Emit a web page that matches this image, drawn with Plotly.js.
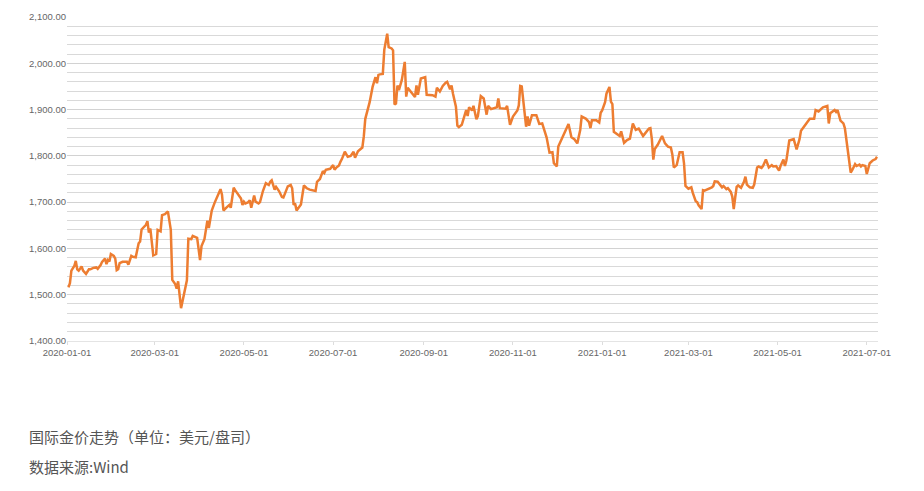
<!DOCTYPE html>
<html>
<head>
<meta charset="utf-8">
<script src="https://cdn.plot.ly/plotly-3.0.1.min.js"></script>
<style>
html,body{margin:0;padding:0;background:#fff;}
#chart{width:924px;height:491px;}
</style>
</head>
<body>
<div id="chart"></div>
<script>
const dates = [
"2020-01-02","2020-01-03","2020-01-04","2020-01-06","2020-01-07","2020-01-08","2020-01-09","2020-01-11","2020-01-12","2020-01-14",
"2020-01-16","2020-01-17","2020-01-19","2020-01-21","2020-01-22","2020-01-24","2020-01-25","2020-01-27","2020-01-28","2020-01-29",
"2020-01-30","2020-01-31","2020-02-02","2020-02-03","2020-02-04","2020-02-05","2020-02-06","2020-02-08","2020-02-11","2020-02-12",
"2020-02-14","2020-02-15","2020-02-17","2020-02-19","2020-02-20","2020-02-21","2020-02-24","2020-02-25","2020-02-26","2020-02-27",
"2020-02-29","2020-03-02","2020-03-03","2020-03-05","2020-03-06","2020-03-08","2020-03-10","2020-03-12","2020-03-13","2020-03-15",
"2020-03-16","2020-03-17","2020-03-19","2020-03-21","2020-03-23","2020-03-24","2020-03-26","2020-03-27","2020-03-30","2020-04-01",
"2020-04-02","2020-04-04","2020-04-06","2020-04-07","2020-04-09","2020-04-11","2020-04-13","2020-04-15","2020-04-16","2020-04-17",
"2020-04-19","2020-04-21","2020-04-22","2020-04-24","2020-04-25","2020-04-28","2020-04-29","2020-04-30","2020-05-01","2020-05-02",
"2020-05-04","2020-05-05","2020-05-06","2020-05-08","2020-05-09","2020-05-11","2020-05-12","2020-05-14","2020-05-16","2020-05-18",
"2020-05-19","2020-05-20","2020-05-22","2020-05-23","2020-05-25","2020-05-27","2020-05-28","2020-05-30","2020-05-31","2020-06-02",
"2020-06-03","2020-06-04","2020-06-05","2020-06-06","2020-06-08","2020-06-09","2020-06-11","2020-06-13","2020-06-15","2020-06-17",
"2020-06-19","2020-06-20","2020-06-22","2020-06-24","2020-06-25","2020-06-26","2020-06-29","2020-07-01","2020-07-02","2020-07-03",
"2020-07-05","2020-07-06","2020-07-07","2020-07-09","2020-07-11","2020-07-13","2020-07-15","2020-07-16","2020-07-18","2020-07-21",
"2020-07-22","2020-07-23","2020-07-26","2020-07-28","2020-07-30","2020-07-31","2020-08-01","2020-08-02","2020-08-04","2020-08-05",
"2020-08-07","2020-08-08","2020-08-10","2020-08-11","2020-08-12","2020-08-13","2020-08-14","2020-08-15","2020-08-17","2020-08-19",
"2020-08-20","2020-08-21","2020-08-24","2020-08-26","2020-08-27","2020-08-28","2020-08-30","2020-09-02","2020-09-03","2020-09-07",
"2020-09-09","2020-09-10","2020-09-12","2020-09-14","2020-09-16","2020-09-17","2020-09-19","2020-09-20","2020-09-21","2020-09-23",
"2020-09-24","2020-09-25","2020-09-27","2020-09-29","2020-09-30","2020-10-01","2020-10-02","2020-10-04","2020-10-05","2020-10-07",
"2020-10-08","2020-10-10","2020-10-12","2020-10-14","2020-10-15","2020-10-17","2020-10-21","2020-10-22","2020-10-23","2020-10-27",
"2020-10-28","2020-10-30","2020-11-01","2020-11-04","2020-11-05","2020-11-06","2020-11-07","2020-11-10","2020-11-11","2020-11-12",
"2020-11-14","2020-11-17","2020-11-19","2020-11-21","2020-11-24","2020-11-26","2020-11-28","2020-11-29","2020-12-01","2020-12-02",
"2020-12-05","2020-12-07","2020-12-09","2020-12-11","2020-12-13","2020-12-15","2020-12-17","2020-12-18","2020-12-21","2020-12-23",
"2020-12-24","2020-12-25","2020-12-28","2020-12-30","2020-12-31","2021-01-01","2021-01-03","2021-01-04","2021-01-06","2021-01-07",
"2021-01-08","2021-01-09","2021-01-11","2021-01-13","2021-01-14","2021-01-15","2021-01-16","2021-01-18","2021-01-20","2021-01-22",
"2021-01-23","2021-01-24","2021-01-26","2021-01-29","2021-01-30","2021-02-02","2021-02-03","2021-02-04","2021-02-05","2021-02-06",
"2021-02-08","2021-02-11","2021-02-13","2021-02-15","2021-02-17","2021-02-18","2021-02-19","2021-02-21","2021-02-23","2021-02-25",
"2021-02-26","2021-02-27","2021-03-01","2021-03-03","2021-03-04","2021-03-06","2021-03-07","2021-03-08","2021-03-10","2021-03-11",
"2021-03-12","2021-03-15","2021-03-17","2021-03-18","2021-03-19","2021-03-21","2021-03-22","2021-03-24","2021-03-25","2021-03-27",
"2021-03-28","2021-03-30","2021-03-31","2021-04-01","2021-04-02","2021-04-03","2021-04-04","2021-04-06","2021-04-08","2021-04-09",
"2021-04-10","2021-04-12","2021-04-14","2021-04-15","2021-04-17","2021-04-18","2021-04-20","2021-04-21","2021-04-23","2021-04-24",
"2021-04-25","2021-04-27","2021-04-28","2021-04-30","2021-05-02","2021-05-03","2021-05-05","2021-05-06","2021-05-07","2021-05-09",
"2021-05-12","2021-05-14","2021-05-16","2021-05-17","2021-05-20","2021-05-21","2021-05-23","2021-05-26","2021-05-27","2021-05-29",
"2021-05-31","2021-06-01","2021-06-04","2021-06-05","2021-06-06","2021-06-09","2021-06-10","2021-06-11","2021-06-13","2021-06-15",
"2021-06-16","2021-06-17","2021-06-19","2021-06-20","2021-06-21","2021-06-23","2021-06-24","2021-06-26","2021-06-27","2021-06-28",
"2021-06-30","2021-07-01","2021-07-03","2021-07-05","2021-07-07","2021-07-08"
];
const prices = [
1516,1525,1552,1562,1573,1555,1552,1561,1552,1545,
1555,1555,1558,1559,1556,1564,1571,1578,1566,1575,
1572,1588,1584,1578,1553,1555,1568,1571,1571,1565,
1584,1582,1581,1611,1615,1641,1651,1659,1634,1643,
1585,1588,1640,1637,1672,1674,1680,1640,1532,1523,
1513,1529,1471,1503,1531,1621,1620,1627,1623,1575,
1605,1620,1660,1644,1682,1699,1715,1728,1716,1682,
1688,1694,1688,1731,1726,1711,1708,1694,1701,1697,
1700,1704,1688,1714,1701,1697,1700,1724,1741,1737,
1744,1747,1727,1733,1724,1711,1710,1726,1734,1737,
1730,1694,1697,1682,1690,1695,1736,1730,1727,1726,
1724,1744,1750,1767,1763,1770,1772,1780,1770,1774,
1779,1787,1793,1809,1798,1800,1809,1796,1810,1818,
1842,1880,1916,1949,1970,1957,1975,1976,1977,2029,
2064,2035,2032,2028,1911,1913,1952,1942,1964,2003,
1928,1947,1935,1927,1952,1932,1967,1970,1932,1931,
1928,1947,1939,1951,1958,1960,1944,1952,1934,1906,
1865,1862,1867,1888,1899,1886,1905,1898,1908,1879,
1886,1929,1924,1889,1908,1901,1905,1924,1903,1902,
1908,1867,1885,1898,1909,1951,1950,1863,1885,1865,
1888,1888,1869,1870,1840,1807,1808,1784,1777,1820,
1841,1852,1869,1840,1836,1827,1856,1885,1880,1873,
1860,1877,1877,1872,1893,1898,1916,1935,1949,1917,
1912,1852,1847,1843,1853,1843,1828,1834,1837,1870,
1864,1856,1859,1843,1847,1859,1860,1836,1792,1815,
1824,1843,1827,1820,1818,1803,1775,1780,1808,1808,
1784,1735,1729,1732,1720,1702,1700,1693,1685,1726,
1725,1729,1732,1735,1745,1744,1739,1732,1735,1728,
1730,1722,1712,1685,1710,1733,1736,1731,1744,1755,
1738,1732,1731,1738,1775,1777,1774,1778,1792,1784,
1775,1780,1777,1778,1768,1778,1792,1778,1790,1833,
1836,1814,1836,1854,1867,1872,1880,1880,1899,1896,
1903,1905,1908,1870,1892,1899,1895,1899,1876,1870,
1860,1834,1777,1764,1769,1782,1778,1781,1777,1780,
1778,1761,1784,1790,1793,1798
];
const xRange = ["2020-01-01", "2021-07-08 16:00"];
const yRange = [1400, 2100];
const captionTitle = "国际金价走势（单位：美元/盘司）";
const captionSource = "数据来源:Wind";

const trace = {
  x: dates, y: prices, type: "scatter", mode: "lines",
  line: {color: "#ED7D31", width: 2.5}, hoverinfo: "x+y"
};

const layout = {
  width: 924, height: 491,
  margin: {l: 67, r: 46, t: 17, b: 150},
  paper_bgcolor: "#ffffff", plot_bgcolor: "#ffffff",
  showlegend: false,
  font: {family: "Liberation Sans, Arial, sans-serif", color: "#666", size: 9.5},
  xaxis: {
    type: "date", range: xRange,
    tick0: "2020-01-01", dtick: "M2", tickformat: "%Y-%m-%d",
    showgrid: false, zeroline: false,
    showline: true, linecolor: "#e4e4e4", linewidth: 1,
    ticks: "outside", ticklen: 3, tickcolor: "#dddddd",
    tickfont: {size: 9.5, color: "#666"}
  },
  yaxis: {
    range: yRange, dtick: 100, tick0: 1400,
    tickformat: ",.2f",
    showgrid: true, gridcolor: "#d2d2d2", gridwidth: 1,
    minor: {dtick: 20, showgrid: true, gridcolor: "#d9d9d9", gridwidth: 1},
    zeroline: false, showline: false, ticks: "",
    tickfont: {size: 9.5, color: "#666"}
  },
  annotations: [
    {text: captionTitle, xref: "paper", yref: "paper", x: -0.0493, y: -0.296,
     xanchor: "left", yanchor: "middle", showarrow: false,
     font: {family: "Noto Sans CJK SC", size: 15, color: "#555"}},
    {text: captionSource, xref: "paper", yref: "paper", x: -0.0493, y: -0.386,
     xanchor: "left", yanchor: "middle", showarrow: false,
     font: {family: "Noto Sans CJK SC", size: 15, color: "#555"}}
  ]
};

Plotly.newPlot("chart", [trace], layout, {displayModeBar: false, staticPlot: true});
</script>
</body>
</html>
